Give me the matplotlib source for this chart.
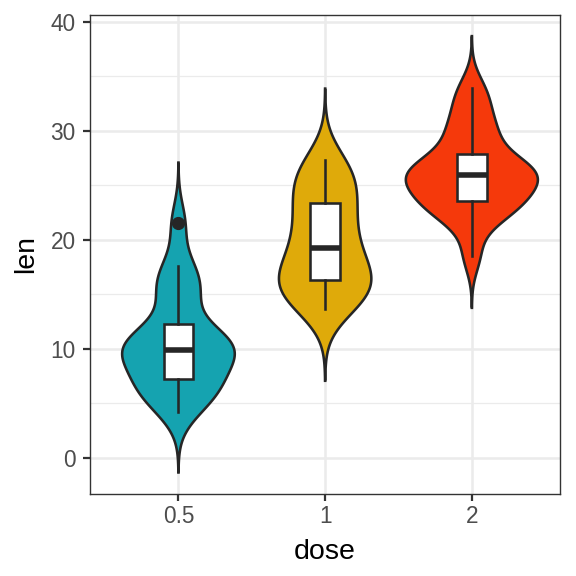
import numpy as np
import matplotlib
matplotlib.use('Agg')
import matplotlib.pyplot as plt
from matplotlib.ticker import MultipleLocator

# ToothGrowth len values by dose
doses = ['0.5', '1', '2']
len_05 = [4.2, 11.5, 7.3, 5.8, 6.4, 10, 11.2, 11.2, 5.2, 7,
          15.2, 21.5, 17.6, 9.7, 14.5, 10, 8.2, 9.4, 16.5, 9.7]
len_1 = [16.5, 16.5, 15.2, 17.3, 22.5, 17.3, 13.6, 14.5, 18.8, 15.5,
         19.7, 23.3, 23.6, 26.4, 20, 25.2, 25.8, 21.2, 14.5, 27.3]
len_2 = [23.6, 18.5, 33.9, 25.5, 26.4, 32.5, 26.7, 21.5, 23.3, 29.5,
         25.5, 26.4, 22.4, 24.5, 24.8, 30.9, 26.4, 27.3, 29.4, 23]
colors = ['#15A3B0', '#DFAA0A', '#F5390B']

groups = [np.array(len_05), np.array(len_1), np.array(len_2)]
edge = '#262626'


def bw_nrd0(x):
    sd = np.std(x, ddof=1)
    iqr = np.subtract(*np.percentile(x, [75, 25]))
    return 0.9 * min(sd, iqr / 1.34) * len(x) ** -0.2


def kde(x):
    bw = bw_nrd0(x)
    ys = np.linspace(x.min() - 3 * bw, x.max() + 3 * bw, 512)
    d = np.exp(-0.5 * ((ys[:, None] - x[None, :]) / bw) ** 2).sum(axis=1)
    d = d / (len(x) * bw * np.sqrt(2 * np.pi))
    return ys, d


plt.rcParams['font.family'] = ['Liberation Sans', 'DejaVu Sans']
fig = plt.figure(figsize=(5.76, 5.76), dpi=100)
ax = fig.add_axes([0.157, 0.143, 0.815, 0.831])

dens = [kde(g) for g in groups]
dmax = max(d.max() for _, d in dens)

for i, (g, (ys, d)) in enumerate(zip(groups, dens)):
    pos = i + 1
    w = 0.9 * d / dmax / 2
    xs = np.concatenate([pos - w, (pos + w)[::-1]])
    yy = np.concatenate([ys, ys[::-1]])
    ax.fill(xs, yy, facecolor=colors[i], edgecolor=edge, lw=1.85, zorder=3)

bp = ax.boxplot(groups, positions=[1, 2, 3], widths=0.2, patch_artist=True,
                whis=1.5, showcaps=False, zorder=4,
                boxprops=dict(facecolor='white', edgecolor=edge, lw=1.85),
                whiskerprops=dict(color=edge, lw=1.85),
                medianprops=dict(color=edge, lw=4, solid_capstyle='butt'),
                flierprops=dict(marker='o', markerfacecolor=edge,
                                markeredgecolor=edge, markersize=8.5))

ax.set_xlim(0.4, 3.6)
ax.set_ylim(-3.3, 40.6)
ax.set_xticks([1, 2, 3])
ax.set_xticklabels(doses)
ax.yaxis.set_major_locator(MultipleLocator(10))
ax.yaxis.set_minor_locator(MultipleLocator(5))
ax.grid(True, which='major', color='#EBEBEB', lw=1.8, zorder=0)
ax.grid(True, which='minor', axis='y', color='#EBEBEB', lw=0.9, zorder=0)
ax.set_axisbelow(True)
ax.tick_params(which='major', length=5, width=1.6, color='#333333',
               labelsize=16.3, labelcolor='#4D4D4D')
ax.tick_params(axis='x', pad=3.4)
ax.tick_params(axis='y', pad=5.5)
ax.tick_params(which='minor', length=0)
for s in ax.spines.values():
    s.set_color('#333333')
    s.set_linewidth(1.0)
ax.set_xlabel('dose', fontsize=20.5, labelpad=8)
ax.set_ylabel('len', fontsize=20.5, labelpad=8)

fig.savefig('out.png', dpi=100)
